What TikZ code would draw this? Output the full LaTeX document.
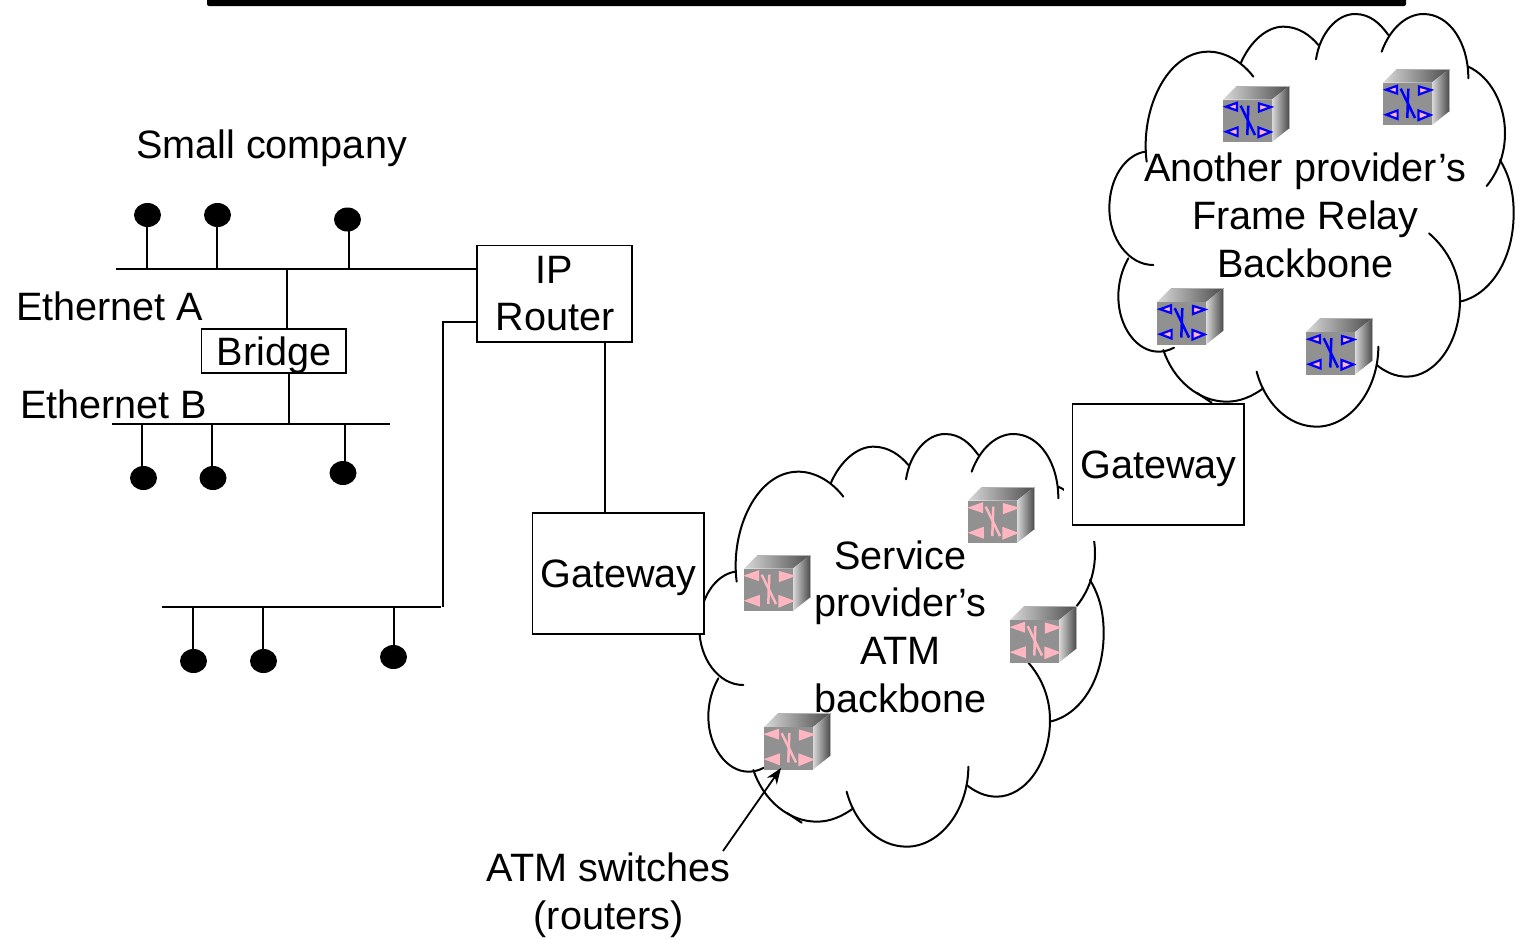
\documentclass[tikz,border=0pt]{standalone}
\usepackage{fontspec}
\setmainfont{Liberation Sans}
\usetikzlibrary{arrows.meta,shapes.geometric}
\definecolor{fpink}{RGB}{255,182,193}
\definecolor{fblue}{RGB}{0,0,255}
\definecolor{fgray}{RGB}{145,145,145}
\tikzset{
  wire/.style={draw=black,line width=1.8pt},
  boxnode/.style={draw=black,line width=1.8pt,fill=white,anchor=north west,inner sep=0pt,align=center,font=\lbl},
  lbl/.style={inner sep=0pt,align=center,font=\lbl},
  host/.style={ellipse,fill=black,draw=none,minimum width=27pt,minimum height=24pt,inner sep=0pt},
}
\newcommand{\lbl}{\fontsize{39.6}{47.7}\selectfont}
\newcommand{\cloudat}[2]{%
\begin{scope}[shift={(#1,#2)},x=0.33333pt,y=-0.33333pt,line width=2pt,line cap=round]
\draw (140,485) .. controls (120,330) and (200,155) .. (325,155) .. controls (380,155) and (430,190) .. (460,230);
\draw (422,190) .. controls (450,125) and (500,80) .. (550,80) .. controls (595,80) and (630,105) .. (655,135);
\draw (648,178) .. controls (660,100) and (710,42) .. (765,42) .. controls (810,42) and (840,70) .. (865,105);
\draw (845,155) .. controls (870,85) and (920,42) .. (970,42) .. controls (1050,42) and (1105,130) .. (1105,235);
\draw (1105,200) .. controls (1170,230) and (1215,310) .. (1215,400) .. controls (1215,460) and (1195,515) .. (1160,558);
\draw (1200,480) .. controls (1230,530) and (1241,580) .. (1241,640) .. controls (1241,780) and (1170,885) .. (1080,905);
\draw (987,700) .. controls (1045,750) and (1080,820) .. (1080,900) .. controls (1080,1030) and (1005,1130) .. (920,1130) .. controls (885,1130) and (855,1115) .. (830,1095);
\draw (835,1040) .. controls (835,1170) and (750,1280) .. (650,1280) .. controls (565,1280) and (495,1210) .. (470,1115);
\draw (490,1165) .. controls (455,1190) and (420,1205) .. (380,1205) .. controls (295,1205) and (220,1140) .. (190,1050);
\draw (290,1178) -- (335,1208);
\draw (222,1043) .. controls (205,1052) and (190,1055) .. (175,1055) .. controls (110,1055) and (55,980) .. (55,890) .. controls (55,850) and (65,810) .. (85,775);
\draw (160,795) .. controls (85,795) and (28,715) .. (28,625) .. controls (28,535) and (75,465) .. (135,455);
\end{scope}}
\newcommand{\switchat}[5]{% x y triangle-fill triangle-line line-width
\begin{scope}[shift={(#1,#2)}]
\shade[left color=gray!30!white,right color=black!70] (0,13.5) -- (13.5,0) -- (66,0) -- (49,13.5) -- cycle;
\shade[left color=gray!30!white,right color=black!70] (49,13.5) -- (66,0) -- (66,42.5) -- (49,56) -- cycle;
\fill[fgray] (0,13.5) rectangle (49,56);
\draw[gray!60,line width=0.6pt] (13.5,0) -- (66,0) -- (66,42.5);
\begin{scope}[draw=#4,fill=#3,line width=#5,line join=miter]
\filldraw (3,20.7) -- (14,16.8) -- (14,24.5) -- cycle;
\filldraw (48,21) -- (36,17.5) -- (36,25.5) -- cycle;
\filldraw (3.2,45.7) -- (14.6,41.5) -- (14.6,50) -- cycle;
\filldraw (47.5,46) -- (35.5,41.5) -- (35.5,51) -- cycle;
\draw[line width=2.5pt] (17.7,19.7) -- (32,49);
\draw[line width=2.5pt] (25.3,19.7) -- (24.3,49);
\end{scope}
\end{scope}}
\begin{document}
\begin{tikzpicture}[x=1pt,y=-1pt]
\useasboundingbox (0,0) rectangle (1524,940);
% top bar
\fill[black,rounded corners=2pt] (207,-6) rectangle (1406,6);
% clouds
\cloudat{1100}{0}
\cloudat{690}{420}
\fill[white] (1064,480) rectangle (1100,541);
% small company network
\node[boxnode,minimum width=154.5pt,minimum height=96.5pt] (router) at (476.3,244.5) {\raisebox{-2.5pt}{IP}\\\hspace*{1.5pt}\raisebox{-2.5pt}{Router}};
\node[boxnode,minimum width=144.5pt,minimum height=44.5pt,text depth=0pt] (bridge) at (200.5,327.8) {\hspace*{1pt}Bridge};
\node[boxnode,minimum width=171.5pt,minimum height=121.5pt,text depth=0pt] (gw1) at (531.5,511.7) {\hspace*{1pt}Gateway};
\node[boxnode,minimum width=171.5pt,minimum height=121.5pt,text depth=0pt] (gw2) at (1071.5,402.7) {\hspace*{1pt}Gateway};
\node[host] (a1) at (147.5,215) {};
\node[host] (a2) at (217.5,215) {};
\node[host] (a3) at (347.5,219.5) {};
\node[host] (b1) at (143.5,478) {};
\node[host] (b2) at (213,478) {};
\node[host] (b3) at (343,473) {};
\node[host] (c1) at (193.5,661) {};
\node[host] (c2) at (263.5,661) {};
\node[host] (c3) at (393.5,657) {};
\coordinate (busAw) at (116,269);
\coordinate (busBw) at (112,424);
\coordinate (busBe) at (390,424);
\coordinate (busCw) at (162,607);
\coordinate (busCe) at (441,607);
\coordinate (busAe) at (router.west |- busAw);
\coordinate (turnC) at (443,322);
\coordinate (routerC) at (router.west |- turnC);
\draw[wire] (busAw) -- (busAe);
\draw[wire] (busBw) -- (busBe);
\draw[wire] (busCw) -- (busCe);
\draw[wire] (147,215) -- (147,269);
\draw[wire] (217,215) -- (217,269);
\draw[wire] (349,219) -- (349,269);
\draw[wire] (142,424) -- (142,478);
\draw[wire] (212,424) -- (212,478);
\draw[wire] (345,424) -- (345,473);
\draw[wire] (193,607) -- (193,661);
\draw[wire] (263,607) -- (263,661);
\draw[wire] (394,607) -- (394,657);
\draw[wire] (287,269) -- (287,328);
\draw[wire] (289,373) -- (289,424);
\draw[wire] (443,607) -- (turnC) -- (routerC);
\draw[wire] (605,342) -- (605,512);
% switches
\switchat{1223}{86}{fpink}{fblue}{2.2pt}
\switchat{1383}{69}{fpink}{fblue}{2.2pt}
\switchat{1157}{288.5}{fpink}{fblue}{2.2pt}
\switchat{1306}{318.5}{fpink}{fblue}{2.2pt}
\switchat{968}{487}{fpink}{fpink}{2.4pt}
\switchat{744}{555}{fpink}{fpink}{2.4pt}
\switchat{1010}{606.5}{fpink}{fpink}{2.4pt}
\switchat{764}{713.5}{fpink}{fpink}{2.4pt}
% labels
\node[lbl,anchor=west,text depth=0pt] (small) at (136,144) {Small company};
\node[lbl,anchor=west] (etha) at (16,306) {Ethernet A};
\node[lbl,anchor=west] (ethb) at (20,404) {Ethernet B};
\node[lbl] (provider) at (1305.5,215.3) {Another provider’s\\Frame Relay\\Backbone};
\node[lbl] (atm) at (900.5,626.5) {Service\\provider’s\\ATM\\backbone};
\node[lbl] (switches) at (608.5,895) {ATM switches\\(routers)};
\coordinate (arrowfrom) at (723,851);
\coordinate (arrowto) at (781,768);
\draw[line width=1.8pt,-{Stealth[length=16pt,width=12pt]}] (arrowfrom) -- (arrowto);
\end{tikzpicture}
\end{document}
